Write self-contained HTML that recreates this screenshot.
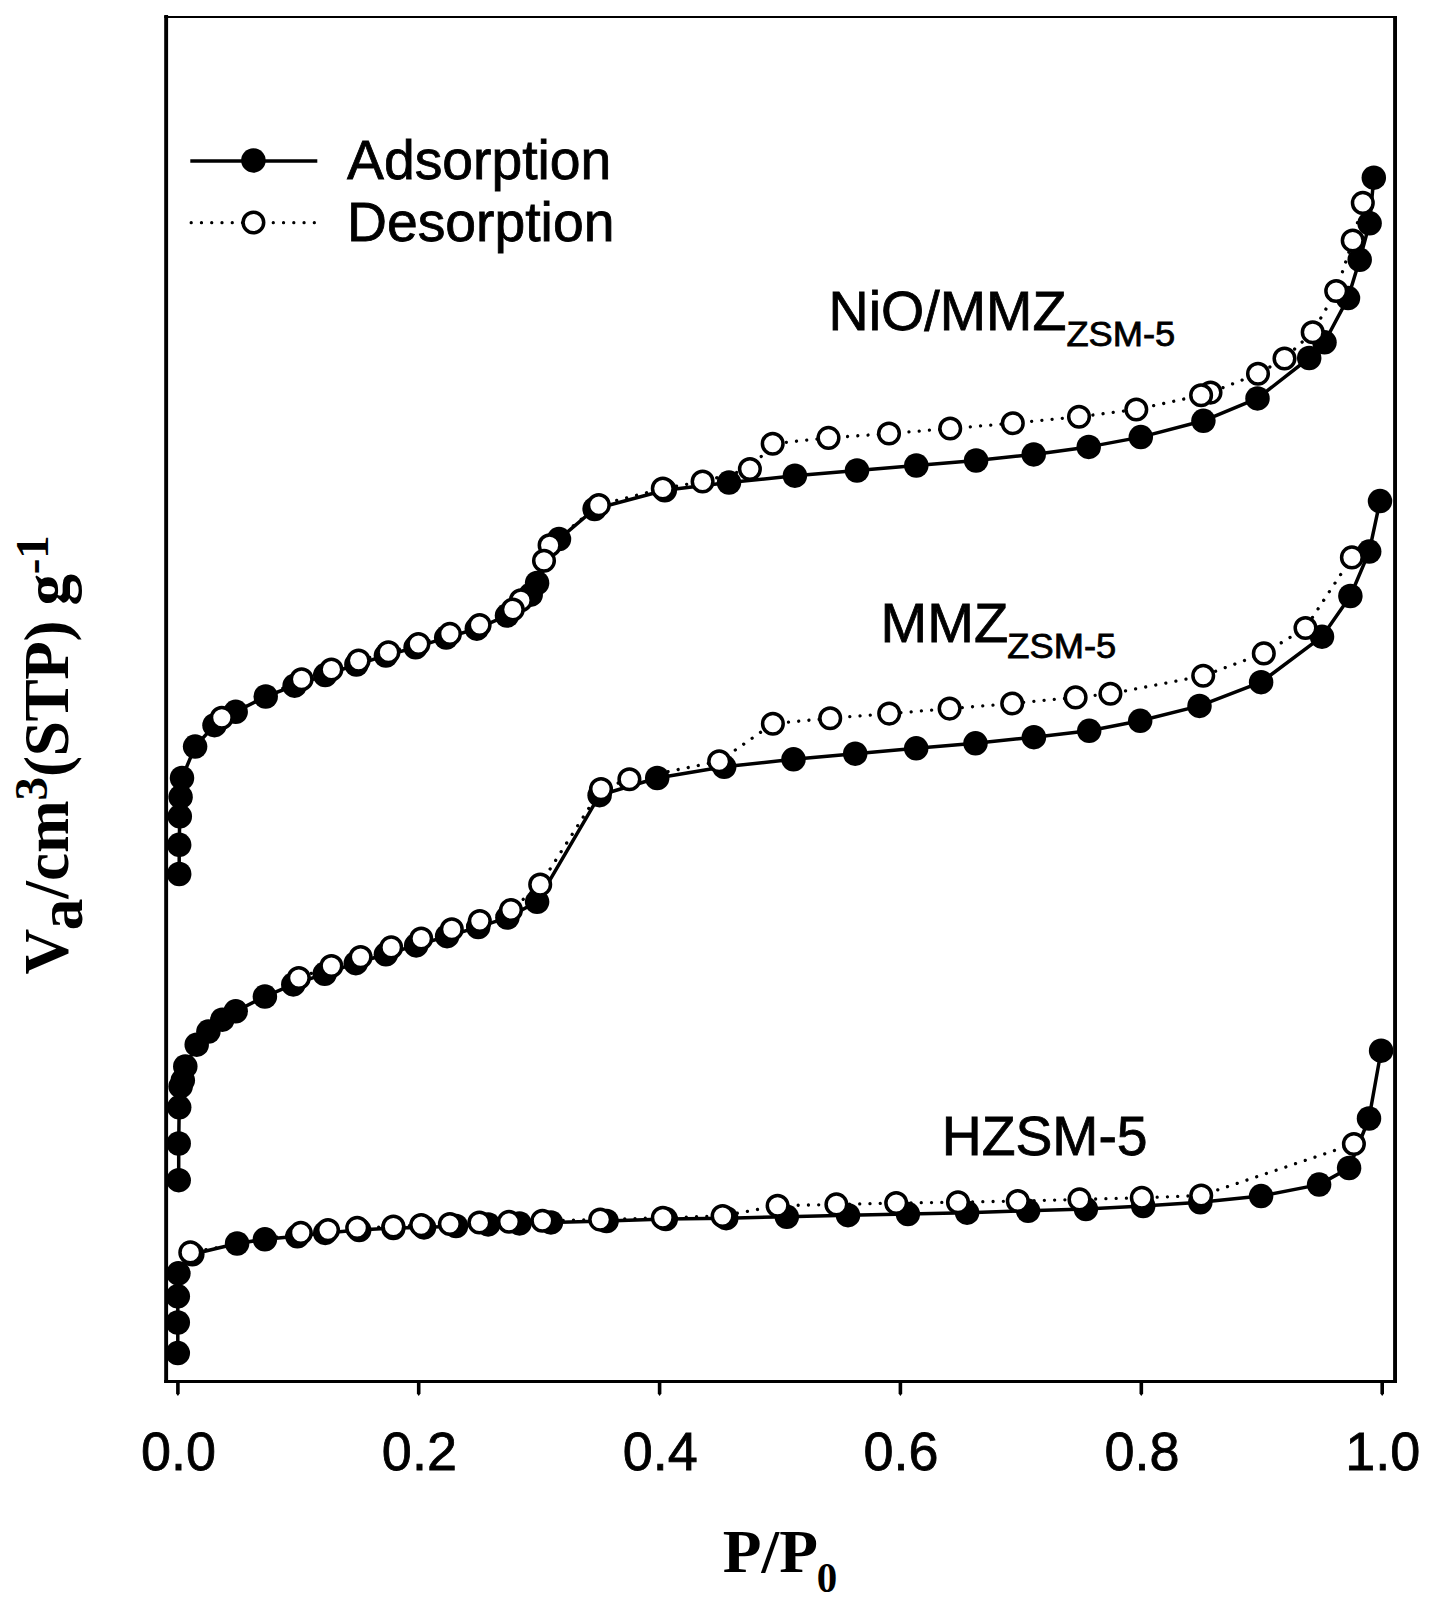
<!DOCTYPE html>
<html lang="en">
<head>
<meta charset="utf-8">
<title>N2 adsorption-desorption isotherms</title>
<style>
html,body{margin:0;padding:0;background:#fff;}
body{width:1438px;height:1600px;overflow:hidden;}
svg{display:block;}
.sans{font-family:"Liberation Sans",Arial,Helvetica,sans-serif;fill:#000;stroke:#000;stroke-width:0.8;}
.serif{font-family:"Liberation Serif","Times New Roman",Times,serif;font-weight:bold;fill:#000;}
.ln{fill:none;stroke:#000;stroke-width:3.5;stroke-linejoin:round;}
.dt{fill:none;stroke:#000;stroke-width:3.3;stroke-linecap:round;stroke-dasharray:0.01 10.25;}
.f{fill:#000;}
.o{fill:#fff;stroke:#000;stroke-width:3.5;}
</style>
</head>
<body>
<svg width="1438" height="1600" viewBox="0 0 1438 1600">
<rect x="0" y="0" width="1438" height="1600" fill="#fff"/>

<g fill="#000">
<rect x="164.2" y="15" width="3.9" height="1368"/>
<rect x="1393.1" y="16" width="3.9" height="1367"/>
<rect x="164.2" y="16" width="1232.8" height="2"/>
<rect x="164.2" y="1380" width="1232.8" height="3"/>
<path d="M176.1,1382 h3.6 v11.5 l-1.8,2.5 l-1.8,-2.5 z"/>
<path d="M416.9,1382 h3.6 v11.5 l-1.8,2.5 l-1.8,-2.5 z"/>
<path d="M657.8,1382 h3.6 v11.5 l-1.8,2.5 l-1.8,-2.5 z"/>
<path d="M898.6,1382 h3.6 v11.5 l-1.8,2.5 l-1.8,-2.5 z"/>
<path d="M1139.5,1382 h3.6 v11.5 l-1.8,2.5 l-1.8,-2.5 z"/>
<path d="M1380.4,1382 h3.6 v11.5 l-1.8,2.5 l-1.8,-2.5 z"/>
</g>
<polyline class="ln" points="177.8,1353.1 177.8,1322.5 177.8,1296.3 178.4,1273.3 192.3,1254.3 237.1,1243.5 264.9,1239.3 297.4,1236.3 325.2,1232.9 359.2,1230.1 393.4,1228.0 424.0,1227.4 456.0,1226.0 488.2,1224.4 519.5,1223.4 550.9,1222.4 606.6,1221.0 665.8,1219.1 726.2,1218.2 786.8,1216.8 848.0,1215.2 907.9,1214.1 967.1,1212.7 1028.1,1210.8 1085.9,1209.1 1143.2,1206.0 1200.3,1202.3 1261.1,1196.1 1319.1,1184.6 1349.1,1168.0 1369.0,1118.5 1381.1,1050.7"/>
<g class="f"><circle cx="177.8" cy="1353.1" r="12.25"/><circle cx="177.8" cy="1322.5" r="12.25"/><circle cx="177.8" cy="1296.3" r="12.25"/><circle cx="178.4" cy="1273.3" r="12.25"/><circle cx="192.3" cy="1254.3" r="12.25"/><circle cx="237.1" cy="1243.5" r="12.25"/><circle cx="264.9" cy="1239.3" r="12.25"/><circle cx="297.4" cy="1236.3" r="12.25"/><circle cx="325.2" cy="1232.9" r="12.25"/><circle cx="359.2" cy="1230.1" r="12.25"/><circle cx="393.4" cy="1228.0" r="12.25"/><circle cx="424.0" cy="1227.4" r="12.25"/><circle cx="456.0" cy="1226.0" r="12.25"/><circle cx="488.2" cy="1224.4" r="12.25"/><circle cx="519.5" cy="1223.4" r="12.25"/><circle cx="550.9" cy="1222.4" r="12.25"/><circle cx="606.6" cy="1221.0" r="12.25"/><circle cx="665.8" cy="1219.1" r="12.25"/><circle cx="726.2" cy="1218.2" r="12.25"/><circle cx="786.8" cy="1216.8" r="12.25"/><circle cx="848.0" cy="1215.2" r="12.25"/><circle cx="907.9" cy="1214.1" r="12.25"/><circle cx="967.1" cy="1212.7" r="12.25"/><circle cx="1028.1" cy="1210.8" r="12.25"/><circle cx="1085.9" cy="1209.1" r="12.25"/><circle cx="1143.2" cy="1206.0" r="12.25"/><circle cx="1200.3" cy="1202.3" r="12.25"/><circle cx="1261.1" cy="1196.1" r="12.25"/><circle cx="1319.1" cy="1184.6" r="12.25"/><circle cx="1349.1" cy="1168.0" r="12.25"/><circle cx="1369.0" cy="1118.5" r="12.25"/><circle cx="1381.1" cy="1050.7" r="12.25"/></g>
<polyline class="dt" points="1353.9,1144.0 1201.2,1195.5 1141.8,1197.8 1079.5,1199.4 1017.8,1201.0 958.0,1202.2 896.2,1203.0 836.4,1204.4 777.6,1205.7 722.6,1216.0 662.8,1217.7 600.2,1219.6 542.4,1220.7 509.0,1221.8 479.4,1222.5 449.9,1224.0 421.2,1225.1 393.4,1226.5 357.2,1227.9 328.0,1230.1 300.8,1232.9 190.3,1252.4"/>
<g class="o"><circle cx="1353.9" cy="1144.0" r="10.3"/><circle cx="1201.2" cy="1195.5" r="10.3"/><circle cx="1141.8" cy="1197.8" r="10.3"/><circle cx="1079.5" cy="1199.4" r="10.3"/><circle cx="1017.8" cy="1201.0" r="10.3"/><circle cx="958.0" cy="1202.2" r="10.3"/><circle cx="896.2" cy="1203.0" r="10.3"/><circle cx="836.4" cy="1204.4" r="10.3"/><circle cx="777.6" cy="1205.7" r="10.3"/><circle cx="722.6" cy="1216.0" r="10.3"/><circle cx="662.8" cy="1217.7" r="10.3"/><circle cx="600.2" cy="1219.6" r="10.3"/><circle cx="542.4" cy="1220.7" r="10.3"/><circle cx="509.0" cy="1221.8" r="10.3"/><circle cx="479.4" cy="1222.5" r="10.3"/><circle cx="449.9" cy="1224.0" r="10.3"/><circle cx="421.2" cy="1225.1" r="10.3"/><circle cx="393.4" cy="1226.5" r="10.3"/><circle cx="357.2" cy="1227.9" r="10.3"/><circle cx="328.0" cy="1230.1" r="10.3"/><circle cx="300.8" cy="1232.9" r="10.3"/><circle cx="190.3" cy="1252.4" r="10.3"/></g>
<polyline class="ln" points="178.7,1180.2 178.7,1143.5 179.2,1107.3 180.6,1086.4 182.8,1080.3 185.3,1066.4 196.7,1044.7 208.4,1031.6 222.3,1019.7 235.7,1011.3 264.9,996.6 293.3,984.4 324.7,973.8 355.8,963.2 385.9,954.3 416.2,945.4 447.1,936.2 478.2,927.1 507.4,917.6 537.1,901.8 599.6,795.2 657.2,778.0 724.2,766.8 793.5,759.3 855.2,753.7 916.2,748.3 975.5,743.3 1033.9,737.2 1089.2,730.8 1140.2,720.8 1199.5,705.9 1261.1,682.2 1322.0,636.7 1350.4,596.0 1369.2,551.6 1380.0,501.1"/>
<g class="f"><circle cx="178.7" cy="1180.2" r="12.25"/><circle cx="178.7" cy="1143.5" r="12.25"/><circle cx="179.2" cy="1107.3" r="12.25"/><circle cx="180.6" cy="1086.4" r="12.25"/><circle cx="182.8" cy="1080.3" r="12.25"/><circle cx="185.3" cy="1066.4" r="12.25"/><circle cx="196.7" cy="1044.7" r="12.25"/><circle cx="208.4" cy="1031.6" r="12.25"/><circle cx="222.3" cy="1019.7" r="12.25"/><circle cx="235.7" cy="1011.3" r="12.25"/><circle cx="264.9" cy="996.6" r="12.25"/><circle cx="293.3" cy="984.4" r="12.25"/><circle cx="324.7" cy="973.8" r="12.25"/><circle cx="355.8" cy="963.2" r="12.25"/><circle cx="385.9" cy="954.3" r="12.25"/><circle cx="416.2" cy="945.4" r="12.25"/><circle cx="447.1" cy="936.2" r="12.25"/><circle cx="478.2" cy="927.1" r="12.25"/><circle cx="507.4" cy="917.6" r="12.25"/><circle cx="537.1" cy="901.8" r="12.25"/><circle cx="599.6" cy="795.2" r="12.25"/><circle cx="657.2" cy="778.0" r="12.25"/><circle cx="724.2" cy="766.8" r="12.25"/><circle cx="793.5" cy="759.3" r="12.25"/><circle cx="855.2" cy="753.7" r="12.25"/><circle cx="916.2" cy="748.3" r="12.25"/><circle cx="975.5" cy="743.3" r="12.25"/><circle cx="1033.9" cy="737.2" r="12.25"/><circle cx="1089.2" cy="730.8" r="12.25"/><circle cx="1140.2" cy="720.8" r="12.25"/><circle cx="1199.5" cy="705.9" r="12.25"/><circle cx="1261.1" cy="682.2" r="12.25"/><circle cx="1322.0" cy="636.7" r="12.25"/><circle cx="1350.4" cy="596.0" r="12.25"/><circle cx="1369.2" cy="551.6" r="12.25"/><circle cx="1380.0" cy="501.1" r="12.25"/></g>
<polyline class="dt" points="1351.9,557.4 1305.5,628.0 1263.8,653.4 1203.2,675.8 1110.4,693.8 1075.6,697.4 1012.2,703.5 949.6,708.6 889.2,713.6 830.2,718.2 772.9,723.7 719.2,761.3 629.4,779.3 601.0,789.1 540.2,884.6 511.0,910.0 479.8,921.0 451.8,929.3 421.2,938.5 391.2,947.4 360.6,957.1 331.4,966.0 298.8,978.0"/>
<g class="o"><circle cx="1351.9" cy="557.4" r="10.3"/><circle cx="1305.5" cy="628.0" r="10.3"/><circle cx="1263.8" cy="653.4" r="10.3"/><circle cx="1203.2" cy="675.8" r="10.3"/><circle cx="1110.4" cy="693.8" r="10.3"/><circle cx="1075.6" cy="697.4" r="10.3"/><circle cx="1012.2" cy="703.5" r="10.3"/><circle cx="949.6" cy="708.6" r="10.3"/><circle cx="889.2" cy="713.6" r="10.3"/><circle cx="830.2" cy="718.2" r="10.3"/><circle cx="772.9" cy="723.7" r="10.3"/><circle cx="719.2" cy="761.3" r="10.3"/><circle cx="629.4" cy="779.3" r="10.3"/><circle cx="601.0" cy="789.1" r="10.3"/><circle cx="540.2" cy="884.6" r="10.3"/><circle cx="511.0" cy="910.0" r="10.3"/><circle cx="479.8" cy="921.0" r="10.3"/><circle cx="451.8" cy="929.3" r="10.3"/><circle cx="421.2" cy="938.5" r="10.3"/><circle cx="391.2" cy="947.4" r="10.3"/><circle cx="360.6" cy="957.1" r="10.3"/><circle cx="331.4" cy="966.0" r="10.3"/><circle cx="298.8" cy="978.0" r="10.3"/></g>
<polyline class="ln" points="179.2,874.0 179.2,844.8 179.8,816.4 180.6,796.9 182.0,778.0 195.1,746.6 214.5,725.2 235.7,711.8 265.7,696.5 294.6,685.7 325.2,675.1 356.4,664.5 385.9,655.6 415.6,647.3 446.2,637.6 476.8,628.7 507.0,615.6 530.7,594.7 537.1,583.0 559.0,539.1 594.6,509.0 664.8,490.3 729.0,482.6 794.9,475.7 857.0,470.5 916.3,465.5 976.1,460.5 1033.7,454.4 1088.7,446.9 1140.8,437.1 1203.4,420.8 1257.5,398.4 1309.2,358.0 1324.5,342.3 1348.0,298.1 1359.7,259.8 1369.6,223.3 1373.8,177.7"/>
<g class="f"><circle cx="179.2" cy="874.0" r="12.25"/><circle cx="179.2" cy="844.8" r="12.25"/><circle cx="179.8" cy="816.4" r="12.25"/><circle cx="180.6" cy="796.9" r="12.25"/><circle cx="182.0" cy="778.0" r="12.25"/><circle cx="195.1" cy="746.6" r="12.25"/><circle cx="214.5" cy="725.2" r="12.25"/><circle cx="235.7" cy="711.8" r="12.25"/><circle cx="265.7" cy="696.5" r="12.25"/><circle cx="294.6" cy="685.7" r="12.25"/><circle cx="325.2" cy="675.1" r="12.25"/><circle cx="356.4" cy="664.5" r="12.25"/><circle cx="385.9" cy="655.6" r="12.25"/><circle cx="415.6" cy="647.3" r="12.25"/><circle cx="446.2" cy="637.6" r="12.25"/><circle cx="476.8" cy="628.7" r="12.25"/><circle cx="507.0" cy="615.6" r="12.25"/><circle cx="530.7" cy="594.7" r="12.25"/><circle cx="537.1" cy="583.0" r="12.25"/><circle cx="559.0" cy="539.1" r="12.25"/><circle cx="594.6" cy="509.0" r="12.25"/><circle cx="664.8" cy="490.3" r="12.25"/><circle cx="729.0" cy="482.6" r="12.25"/><circle cx="794.9" cy="475.7" r="12.25"/><circle cx="857.0" cy="470.5" r="12.25"/><circle cx="916.3" cy="465.5" r="12.25"/><circle cx="976.1" cy="460.5" r="12.25"/><circle cx="1033.7" cy="454.4" r="12.25"/><circle cx="1088.7" cy="446.9" r="12.25"/><circle cx="1140.8" cy="437.1" r="12.25"/><circle cx="1203.4" cy="420.8" r="12.25"/><circle cx="1257.5" cy="398.4" r="12.25"/><circle cx="1309.2" cy="358.0" r="12.25"/><circle cx="1324.5" cy="342.3" r="12.25"/><circle cx="1348.0" cy="298.1" r="12.25"/><circle cx="1359.7" cy="259.8" r="12.25"/><circle cx="1369.6" cy="223.3" r="12.25"/><circle cx="1373.8" cy="177.7" r="12.25"/></g>
<polyline class="dt" points="1362.8,202.9 1352.7,240.5 1336.2,291.0 1312.7,332.2 1284.5,358.5 1258.0,373.8 1210.5,392.6 1201.1,395.2 1136.3,409.5 1079.0,416.8 1012.8,423.2 950.2,428.5 889.0,433.5 828.5,437.9 772.7,443.7 749.9,469.0 702.6,481.5 662.8,488.5 598.8,505.1 549.6,545.2 544.0,560.8 520.9,600.3 512.8,609.5 479.6,625.0 449.9,633.9 418.4,644.0 388.4,652.3 358.6,660.6 331.4,669.5 301.6,679.3 221.8,717.7"/>
<g class="o"><circle cx="1362.8" cy="202.9" r="10.3"/><circle cx="1352.7" cy="240.5" r="10.3"/><circle cx="1336.2" cy="291.0" r="10.3"/><circle cx="1312.7" cy="332.2" r="10.3"/><circle cx="1284.5" cy="358.5" r="10.3"/><circle cx="1258.0" cy="373.8" r="10.3"/><circle cx="1210.5" cy="392.6" r="10.3"/><circle cx="1201.1" cy="395.2" r="10.3"/><circle cx="1136.3" cy="409.5" r="10.3"/><circle cx="1079.0" cy="416.8" r="10.3"/><circle cx="1012.8" cy="423.2" r="10.3"/><circle cx="950.2" cy="428.5" r="10.3"/><circle cx="889.0" cy="433.5" r="10.3"/><circle cx="828.5" cy="437.9" r="10.3"/><circle cx="772.7" cy="443.7" r="10.3"/><circle cx="749.9" cy="469.0" r="10.3"/><circle cx="702.6" cy="481.5" r="10.3"/><circle cx="662.8" cy="488.5" r="10.3"/><circle cx="598.8" cy="505.1" r="10.3"/><circle cx="549.6" cy="545.2" r="10.3"/><circle cx="544.0" cy="560.8" r="10.3"/><circle cx="520.9" cy="600.3" r="10.3"/><circle cx="512.8" cy="609.5" r="10.3"/><circle cx="479.6" cy="625.0" r="10.3"/><circle cx="449.9" cy="633.9" r="10.3"/><circle cx="418.4" cy="644.0" r="10.3"/><circle cx="388.4" cy="652.3" r="10.3"/><circle cx="358.6" cy="660.6" r="10.3"/><circle cx="331.4" cy="669.5" r="10.3"/><circle cx="301.6" cy="679.3" r="10.3"/><circle cx="221.8" cy="717.7" r="10.3"/></g>
<line class="ln" x1="190.3" y1="160.9" x2="317.3" y2="160.9"/>
<circle class="f" cx="253.4" cy="160.4" r="12.25"/>
<line class="dt" x1="191.2" y1="222.7" x2="317.5" y2="222.7"/>
<circle class="o" cx="253.4" cy="222.5" r="10.3"/>
<text class="sans" transform="translate(347,178.7) scale(1.0,1.008)" font-size="55.3">Adsorption</text>
<text class="sans" transform="translate(347,240.5) scale(1.0,1.008)" font-size="55.3">Desorption</text>
<text class="sans" transform="translate(828.6,329.5) scale(1.0,1.008)" font-size="55.6">NiO/MMZ</text>
<text class="sans" transform="translate(1066.4,345.9) scale(1.02,0.97)" font-size="35.6">ZSM-5</text>
<text class="sans" transform="translate(880.6,641.7) scale(1.008,1.008)" font-size="55.6">MMZ</text>
<text class="sans" transform="translate(1007.3,658.2) scale(1.02,0.97)" font-size="35.6">ZSM-5</text>
<text class="sans" transform="translate(941.7,1154.6) scale(0.995,1.008)" font-size="55.6">HZSM-5</text>
<text class="sans" transform="translate(178.6,1470.3) scale(1.0,1.005)" font-size="54.0" text-anchor="middle">0.0</text>
<text class="sans" transform="translate(419.4,1470.3) scale(1.0,1.005)" font-size="54.0" text-anchor="middle">0.2</text>
<text class="sans" transform="translate(660.3,1470.3) scale(1.0,1.005)" font-size="54.0" text-anchor="middle">0.4</text>
<text class="sans" transform="translate(901.1,1470.3) scale(1.0,1.005)" font-size="54.0" text-anchor="middle">0.6</text>
<text class="sans" transform="translate(1142.0,1470.3) scale(1.0,1.005)" font-size="54.0" text-anchor="middle">0.8</text>
<text class="sans" transform="translate(1382.8,1470.3) scale(1.0,1.005)" font-size="54.0" text-anchor="middle">1.0</text>
<text class="serif" transform="translate(722.8,1571.8) scale(1,0.975)" font-size="63.4">P/P</text>
<text class="serif" transform="translate(816.7,1591.6) scale(0.92,0.97)" font-size="44.5">0</text>
<text class="serif" transform="translate(68.4,974.6) rotate(-90)" font-size="63.2">V<tspan dy="14" dx="4.5">a</tspan><tspan dy="-14">/cm</tspan><tspan font-size="47" dy="-21.5">3</tspan><tspan dy="21.5" letter-spacing="-0.4">(STP) g</tspan><tspan font-size="47" dy="-20.5">-1</tspan></text>
</svg>
</body>
</html>
